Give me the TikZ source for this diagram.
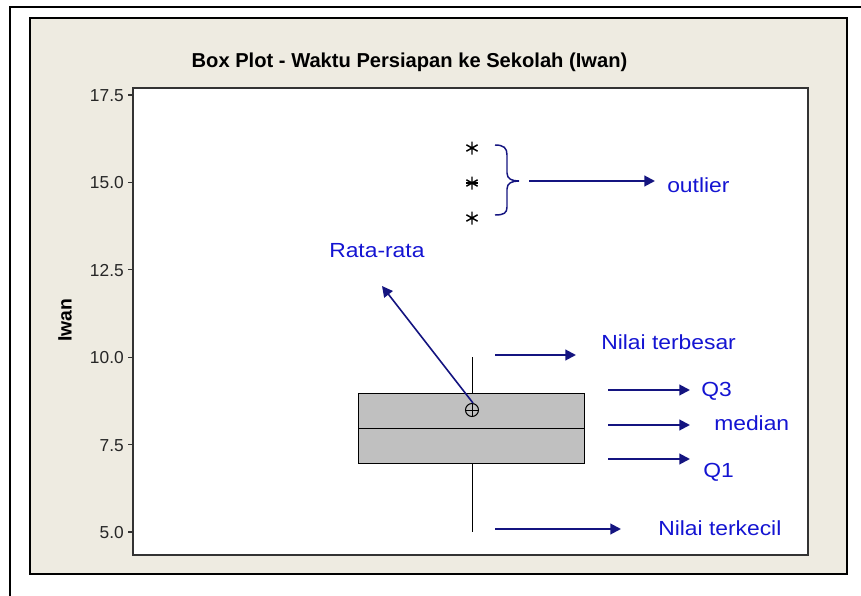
\documentclass[tikz,border=0pt]{standalone}
\usepackage{fontspec}
\setmainfont{Liberation Sans}
\newfontfamily\lab[FakeStretch=1.12]{Liberation Sans}
\usetikzlibrary{arrows.meta,calc}
\definecolor{bgbeige}{RGB}{238,235,225}
\definecolor{navyarrow}{RGB}{20,20,128}
\definecolor{labblue}{RGB}{20,20,210}
\definecolor{boxgray}{RGB}{192,192,192}
\tikzset{
  px/.style={x=0.75pt,y=-0.75pt},
  annarrow/.style={draw=navyarrow,line width=1.5pt,-{Triangle[length=8pt,width=8pt]}},
  annlabel/.style={anchor=base west,inner sep=0pt,text=labblue,font=\lab\fontsize{15.3}{18}\selectfont},
  ticklabel/.style={anchor=base east,inner sep=0pt,font=\fontsize{13}{16}\selectfont,text=black!85},
  plotline/.style={draw=black,line width=0.75pt},
  starline/.style={draw=black,line width=1.1pt},
}
\begin{document}
\begin{tikzpicture}[px]
\useasboundingbox (0,0) rectangle (861,596);
% outer frame (partially visible)
\draw[line width=1.5pt] (10,596) -- (10,7) -- (861,7);
% chart background
\draw[fill=bgbeige,line width=0.9pt] (30,18) rectangle (847,574);
% plot area
\draw[fill=white,draw=black!80,line width=1.1pt] (133,88) rectangle (808,555);
% title
\node[anchor=base,inner sep=0pt,font=\bfseries\fontsize{15.1}{18}\selectfont] (title) at (409.5,67) {Box Plot - Waktu Persiapan ke Sekolah (Iwan)};
% y-axis label
\node[rotate=90,inner sep=0pt,font=\bfseries\fontsize{14.5}{17}\selectfont] (ylab) at (65,320) {Iwan};
% ticks
\foreach \v/\t [count=\i] in {5/5.0,7.5/7.5,10/10.0,12.5/12.5,15/15.0,17.5/17.5}{
  \pgfmathsetmacro{\yy}{532-(\v-5)*34.96}
  \draw[draw=black!80,line width=0.9pt] (128,\yy) -- (133,\yy);
  \node[ticklabel] (tick\i) at (124,\yy+6.5) {\t};
}
% whiskers
\coordinate (wtop) at (472,357);
\coordinate (wbot) at (472,532);
\draw[plotline] (wtop) -- (472,393);
\draw[plotline] (472,463) -- (wbot);
% box
\draw[plotline,fill=boxgray] (358,393) rectangle (584,463);
\draw[plotline] (358,428) -- (584,428);
% mean symbol
\coordinate (mean) at (472,410);
\draw[plotline] (mean) circle (6.5);
\draw[plotline] (465.5,410) -- (478.5,410) (472,403.5) -- (472,416.5);
% outliers
\foreach \n/\yy in {o1/148,o2/183,o3/218}{
  \coordinate (\n) at (472,\yy);
  \draw[starline] ($(\n)+(0,-6.5)$) -- ($(\n)+(0,6.5)$)
    ($(\n)+(-5.6,-3.2)$) -- ($(\n)+(5.6,3.2)$)
    ($(\n)+(-5.6,3.2)$) -- ($(\n)+(5.6,-3.2)$);
}
\draw[starline] ($(o2)+(-6,0)$) -- ($(o2)+(6,0)$);
% brace
\draw[navyarrow,line width=1.1pt] (495,145) .. controls (504,145) and (507,148) .. (507,155) -- (507,173) .. controls (507,179) and (512,181) .. (519,181) .. controls (512,181) and (507,183) .. (507,189) -- (507,207) .. controls (507,213) and (504,215) .. (495,215);
% labels
\node[annlabel] (loutlier) at (667,192) {outlier};
\node[annlabel] (lrata) at (329,257) {Rata-rata};
\node[annlabel] (lmax) at (601,349) {Nilai terbesar};
\node[annlabel] (lq3) at (701,396) {Q3};
\node[annlabel] (lmed) at (714,430) {median};
\node[annlabel] (lq1) at (703,477) {Q1};
\node[annlabel] (lmin) at (658,535) {Nilai terkecil};
% arrows
\coordinate (aout1) at (529,181); \coordinate (aout2) at (655,181);
\coordinate (arata) at (382,286);
\coordinate (amax1) at (495,355); \coordinate (amax2) at (576,355);
\coordinate (aq31) at (608,390); \coordinate (aq32) at (690,390);
\coordinate (amed1) at (608,425); \coordinate (amed2) at (690,425);
\coordinate (aq11) at (608,459); \coordinate (aq12) at (690,459);
\coordinate (amin1) at (495,529); \coordinate (amin2) at (621,529);
\draw[annarrow] (aout1) -- (aout2);
\draw[annarrow,line width=1.2pt] (473,403) -- (arata);
\draw[annarrow] (amax1) -- (amax2);
\draw[annarrow] (aq31) -- (aq32);
\draw[annarrow] (amed1) -- (amed2);
\draw[annarrow] (aq11) -- (aq12);
\draw[annarrow] (amin1) -- (amin2);
\end{tikzpicture}
\end{document}
